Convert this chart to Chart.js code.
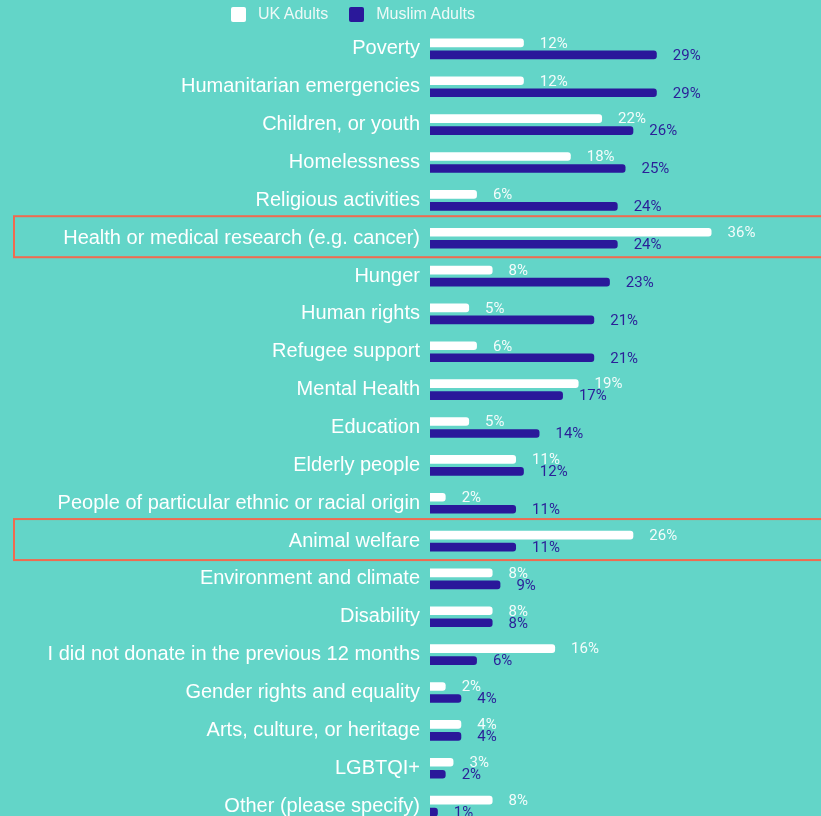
<!DOCTYPE html>
<html>
<head>
<meta charset="utf-8">
<title>Causes donated to</title>
<script src="https://cdn.jsdelivr.net/npm/chart.js@4/dist/chart.umd.min.js"></script>
<style>
  html, body { margin: 0; padding: 0; background: #63d5c8; overflow: hidden; }
  #wrap { position: relative; width: 821px; height: 816px; overflow: hidden; }
  #box { position: absolute; left: 0; top: 0; width: 821px; height: 847px; }
  .legend { position: absolute; top: 5px; left: 231px; display: flex; align-items: center;
            font: 16px "Liberation Sans", Arial, sans-serif; color: #eef9f7; }
  .legend span.sw { display: inline-block; width: 15px; height: 15px; border-radius: 2px; margin-right: 12px; }
  .legend .item { display: flex; align-items: center; margin-right: 21px; line-height: 18px; }
</style>
</head>
<body>
<div id="wrap">
  <div id="box"><canvas id="chart"></canvas></div>
  <div class="legend">
    <div class="item"><span class="sw" style="background:#ffffff"></span>UK Adults</div>
    <div class="item"><span class="sw" style="background:#2a189a"></span>Muslim Adults</div>
  </div>
</div>
<script>
const categories = [
  'Poverty',
  'Humanitarian emergencies',
  'Children, or youth',
  'Homelessness',
  'Religious activities',
  'Health or medical research (e.g. cancer)',
  'Hunger',
  'Human rights',
  'Refugee support',
  'Mental Health',
  'Education',
  'Elderly people',
  'People of particular ethnic or racial origin',
  'Animal welfare',
  'Environment and climate',
  'Disability',
  'I did not donate in the previous 12 months',
  'Gender rights and equality',
  'Arts, culture, or heritage',
  'LGBTQI+',
  'Other (please specify)'
];
const ukAdults =     [12, 12, 22, 18, 6, 36, 8, 5, 6, 19, 5, 11, 2, 26, 8, 8, 16, 2, 4, 3, 8];
const muslimAdults = [29, 29, 26, 25, 24, 24, 23, 21, 21, 17, 14, 12, 11, 11, 9, 8, 6, 4, 4, 2, 1];
const highlighted = ['Health or medical research (e.g. cancer)', 'Animal welfare'];

const WHITE = '#ffffff';
const NAVY = '#2a189a';

// percentage text just past the end of each bar
const valueLabels = {
  id: 'valueLabels',
  afterDatasetsDraw(chart) {
    const ctx = chart.ctx;
    ctx.save();
    ctx.font = '15px Roboto, "Liberation Sans", sans-serif';
    ctx.textAlign = 'left';
    ctx.textBaseline = 'middle';
    chart.data.datasets.forEach((ds, i) => {
      const meta = chart.getDatasetMeta(i);
      ctx.fillStyle = i === 0 ? 'rgba(255,255,255,0.92)' : '#2b1f98';
      meta.data.forEach((bar, j) => {
        ctx.fillText(ds.data[j] + '%', bar.x + 16, bar.y + 1);
      });
    });
    ctx.restore();
  }
};

// outline rows that are called out
const rowOutline = {
  id: 'rowOutline',
  afterDraw(chart) {
    const ctx = chart.ctx;
    const y = chart.scales.y;
    ctx.save();
    ctx.strokeStyle = '#ef6b50';
    ctx.lineWidth = 2;
    highlighted.forEach(name => {
      const c = y.getPixelForValue(categories.indexOf(name));
      ctx.strokeRect(14, c - 22, chart.width + 20, 41);
    });
    ctx.restore();
  }
};

new Chart(document.getElementById('chart'), {
  type: 'bar',
  data: {
    labels: categories,
    datasets: [
      {
        label: 'UK Adults',
        data: ukAdults,
        backgroundColor: WHITE,
        borderRadius: 3,
        borderSkipped: 'start',
        categoryPercentage: 0.635,
        barPercentage: 0.72
      },
      {
        label: 'Muslim Adults',
        data: muslimAdults,
        backgroundColor: NAVY,
        borderRadius: 3,
        borderSkipped: 'start',
        categoryPercentage: 0.635,
        barPercentage: 0.72
      }
    ]
  },
  options: {
    indexAxis: 'y',
    responsive: true,
    maintainAspectRatio: false,
    animation: false,
    layout: { padding: { top: 30, left: 0, right: 0, bottom: 0 } },
    plugins: {
      legend: { display: false },
      tooltip: { enabled: false }
    },
    scales: {
      x: {
        display: false,
        min: 0,
        max: 50
      },
      y: {
        grid: { display: false, drawTicks: false },
        border: { display: false },
        ticks: {
          autoSkip: false,
          color: '#ffffff',
          padding: 10,
          font: { family: '"Liberation Sans", Arial, sans-serif', size: 20 }
        },
        afterFit(scale) { scale.width = 430; }
      }
    }
  },
  plugins: [valueLabels, rowOutline]
});
</script>
</body>
</html>
